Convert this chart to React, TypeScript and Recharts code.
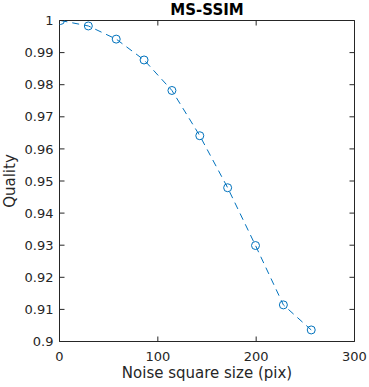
import { LineChart, Line, XAxis, YAxis, Label } from 'recharts'

// noise square size (pix) and MS-SSIM quality
const noiseSize = [1, 29.33, 57.67, 86, 114.33, 142.67, 171, 199.33, 227.67, 256]
const quality = [1.0, 0.9983, 0.9942, 0.9877, 0.9782, 0.9641, 0.9479, 0.9299, 0.9114, 0.9036]

const xTicks = [0, 100, 200, 300]
const yTicks = [0.9, 0.91, 0.92, 0.93, 0.94, 0.95, 0.96, 0.97, 0.98, 0.99, 1]

const AXIS = '#262626'
const BLUE = '#0072BD'
const FONT = '"DejaVu Sans", sans-serif'

const data = noiseSize.map((x, i) => ({ x, q: quality[i] }))

const fmtY = (v: number) => String(Number(v.toFixed(2)))
const noLabel = () => ''

export default function App() {
  return (
    <div
      style={{
        position: 'absolute',
        left: 0,
        top: 0,
        width: 369,
        height: 387,
        background: '#fff',
        fontFamily: FONT,
      }}
    >
      <div
        style={{
          position: 'absolute',
          left: 57,
          width: 300,
          top: 1,
          textAlign: 'center',
          fontWeight: 'bold',
          fontSize: 15,
          color: '#000',
        }}
      >
        MS-SSIM
      </div>
      <div
        style={{
          position: 'absolute',
          left: 10,
          top: 181,
          transform: 'translate(-50%, -50%) rotate(-90deg)',
          fontSize: 15,
          color: AXIS,
          whiteSpace: 'nowrap',
        }}
      >
        Quality
      </div>
      <LineChart
        width={369}
        height={387}
        data={data}
        margin={{ top: 19.5, right: 13.5, bottom: 0, left: 0 }}
        style={{ fontFamily: FONT }}
      >
        <XAxis
          dataKey="x"
          type="number"
          domain={[0, 300]}
          ticks={xTicks}
          height={45.5}
          stroke={AXIS}
          tickSize={-5}
          tickMargin={15}
          tick={{ fill: AXIS, fontSize: 13 }}
          allowDataOverflow
        >
          <Label
            value="Noise square size (pix)"
            position="insideBottom"
            offset={9}
            style={{ fill: AXIS, fontSize: 15 }}
          />
        </XAxis>
        <XAxis
          xAxisId="top"
          orientation="top"
          dataKey="x"
          type="number"
          domain={[0, 300]}
          ticks={xTicks}
          height={1}
          stroke={AXIS}
          tickSize={-5}
          tickFormatter={noLabel}
          allowDataOverflow
        />
        <YAxis
          type="number"
          domain={[0.9, 1]}
          ticks={yTicks}
          width={59.5}
          stroke={AXIS}
          tickSize={-5}
          tickMargin={11}
          tickFormatter={fmtY}
          tick={{ fill: AXIS, fontSize: 13 }}
          allowDataOverflow
        />
        <YAxis
          yAxisId="right"
          orientation="right"
          type="number"
          domain={[0.9, 1]}
          ticks={yTicks}
          width={1}
          stroke={AXIS}
          tickSize={-5}
          tickFormatter={noLabel}
          allowDataOverflow
        />
        {/* invisible series so the top/right box axes get drawn */}
        <Line
          xAxisId="top"
          yAxisId="right"
          dataKey="q"
          stroke="none"
          dot={false}
          legendType="none"
          isAnimationActive={false}
        />
        <Line
          type="linear"
          dataKey="q"
          stroke={BLUE}
          strokeWidth={1}
          strokeDasharray="7 5"
          dot={{ r: 4, fill: 'none', stroke: BLUE, strokeWidth: 1, strokeDasharray: 'none' }}
          isAnimationActive={false}
        />
      </LineChart>
    </div>
  )
}
